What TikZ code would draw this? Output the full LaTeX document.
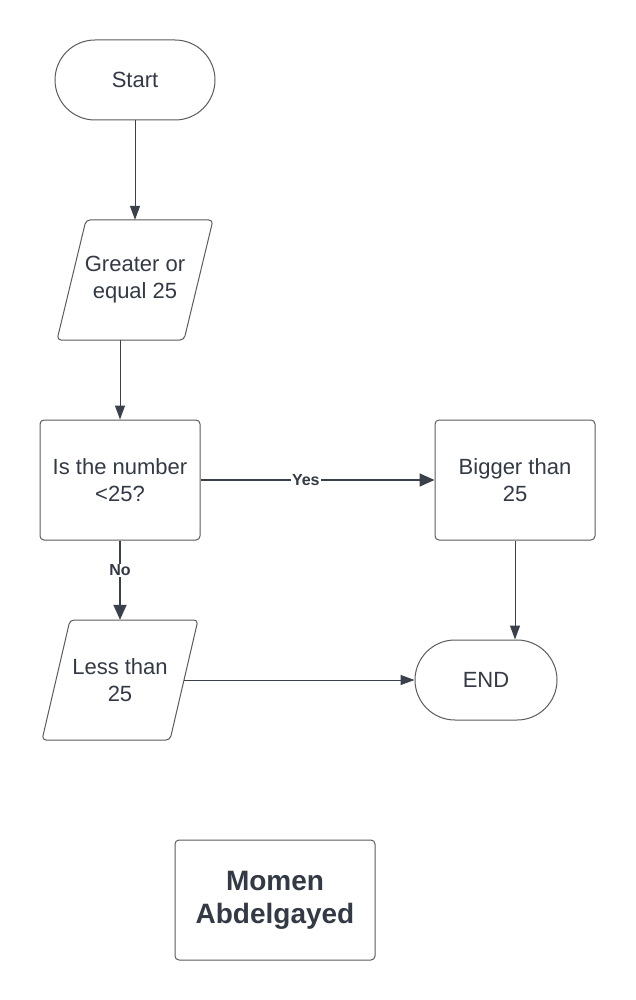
\documentclass[tikz,border=0pt]{standalone}
\usepackage{fontspec}
\setmainfont{Liberation Sans}
\usetikzlibrary{arrows.meta}
\definecolor{txt}{HTML}{333A45}
\definecolor{ln}{HTML}{3A414B}
\definecolor{bd}{HTML}{5C5C5C}
\begin{document}
\begin{tikzpicture}[x=1pt,y=-1pt,
  every node/.style={text=txt, align=center, font=\fontsize{22}{27}\selectfont},
  term/.style={draw=bd, line width=1pt, rounded corners=40pt, minimum height=80pt},
  box/.style={draw=bd, line width=1pt, rounded corners=4pt, minimum width=160pt, minimum height=120pt},
  ptext/.style={inner sep=0pt, minimum height=120pt},
  pshape/.style={draw=bd, line width=1pt, rounded corners=4pt},
  arr/.style={draw=ln, line width=1pt, -{Triangle[length=14pt,width=10pt]}},
  arrb/.style={draw=ln, line width=1.7pt, -{Triangle[length=15pt,width=13pt]}},
  lbl/.style={fill=white, inner sep=1pt, font=\bfseries\fontsize{16}{18}\selectfont}
]
\useasboundingbox[fill=white] (0,0) rectangle (635,1000);

% nodes
\node[term, minimum width=160pt] (start) at (135,80) {Start};

\draw[pshape] (86,220) -- (213,220) -- (184,340) -- (57,340) -- cycle;
\node[ptext, minimum width=127pt] (p1) at (135,280) {Greater or\\equal 25};

\node[box] (q) at (120,480) {Is the number\\{<}25?};
\node[box] (big) at (515,480) {Bigger than\\25};

\draw[pshape] (70,620) -- (198,620) -- (170,740) -- (42,740) -- cycle;
\node[ptext, minimum width=128pt] (p2) at (120,680) {Less than\\25};

\node[term, minimum width=142pt] (end) at (486,680) {END};

\node[box, minimum width=200pt, font=\bfseries\fontsize{28}{33}\selectfont] (name) at (275,900) {Momen\\Abdelgayed};

% connectors
\draw[arr] (start.south) -- (p1.north);
\draw[arr] (p1.south -| q.north) -- (q.north);
\draw[arrb] (q.east) -- node[lbl, pos=0.45] {Yes} (big.west);
\draw[arrb] (q.south) -- node[lbl, pos=0.375] {No} (p2.north);
\draw[arr] (big.south) -- (big.south |- end.north);
\draw[arr] (p2.east) -- (end.west);
\end{tikzpicture}
\end{document}
